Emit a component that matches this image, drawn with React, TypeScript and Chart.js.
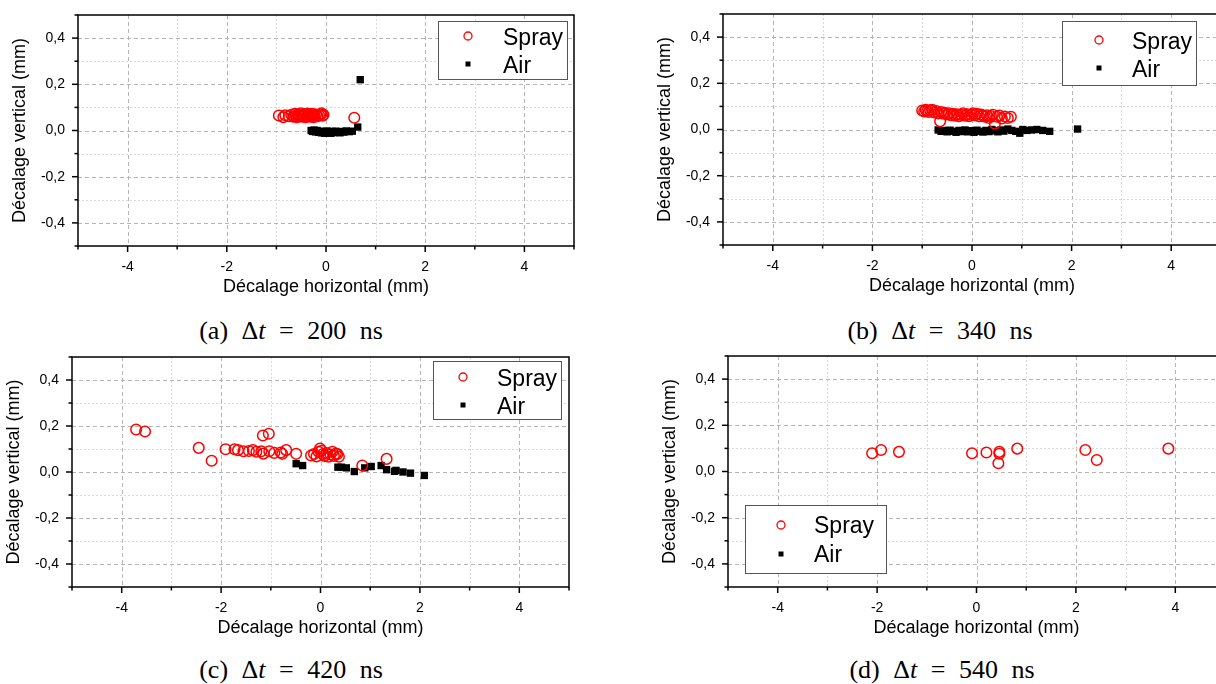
import React, { useEffect, useRef } from 'react';
import { Chart, registerables } from 'chart.js';

Chart.register(...registerables);

type Pt = [number, number];

// ---------- text / tick labels ----------
const xTickValues = [-4, -2, 0, 2, 4];
const xTickLabels = ['-4', '-2', '0', '2', '4'];
const yTickValues = [0.4, 0.2, 0, -0.2, -0.4];
const yTickLabels = ['0,4', '0,2', '0,0', '-0,2', '-0,4'];
const xTitle = 'Décalage horizontal (mm)';
const yTitle = 'Décalage vertical (mm)';
const seriesNames = ['Spray', 'Air'];
const captionLabels = ['(a)', '(b)', '(c)', '(d)'];
const captionTimes = ['200', '340', '420', '540'];

// ---------- data (mm) ----------
const sprayA: Pt[] = [
  [-0.95, 0.065], [-0.86, 0.058], [-0.82, 0.066], [-0.75, 0.062], [-0.7, 0.068], [-0.66, 0.06],
  [-0.63, 0.072], [-0.61, 0.064], [-0.59, 0.058], [-0.57, 0.07], [-0.55, 0.066], [-0.53, 0.061],
  [-0.51, 0.074], [-0.49, 0.068], [-0.47, 0.06], [-0.45, 0.065], [-0.43, 0.071], [-0.41, 0.058],
  [-0.39, 0.066], [-0.37, 0.073], [-0.35, 0.062], [-0.33, 0.068], [-0.31, 0.06], [-0.29, 0.066],
  [-0.27, 0.072], [-0.25, 0.058], [-0.23, 0.064], [-0.2, 0.069], [-0.17, 0.062], [-0.14, 0.066],
  [-0.11, 0.07], [-0.09, 0.074], [-0.07, 0.064], [-0.05, 0.068], [0.57, 0.055],
];
const airA: Pt[] = [
  [-0.3, 0.0], [-0.27, -0.004], [-0.24, 0.002], [-0.21, -0.006], [-0.18, 0.0], [-0.15, -0.008],
  [-0.12, -0.003], [-0.09, -0.01], [-0.06, -0.005], [-0.03, -0.012], [0.0, -0.008], [0.02, -0.002],
  [0.04, -0.01], [0.07, -0.006], [0.1, -0.012], [0.13, -0.004], [0.16, -0.009], [0.19, -0.003],
  [0.22, -0.008], [0.25, -0.005], [0.28, -0.01], [0.32, -0.004], [0.36, -0.007], [0.41, -0.002],
  [0.47, -0.005], [0.53, -0.003], [0.64, 0.015], [0.69, 0.22],
];
const sprayB: Pt[] = [
  [-1.0, 0.082], [-0.96, 0.078], [-0.93, 0.085], [-0.9, 0.08], [-0.87, 0.076], [-0.84, 0.083],
  [-0.8, 0.085], [-0.76, 0.074], [-0.72, 0.08], [-0.68, 0.07], [-0.64, 0.036], [-0.62, 0.076],
  [-0.58, 0.068], [-0.55, 0.072], [-0.5, 0.065], [-0.46, 0.07], [-0.42, 0.062], [-0.38, 0.068],
  [-0.34, 0.06], [-0.3, 0.066], [-0.26, 0.058], [-0.22, 0.064], [-0.18, 0.07], [-0.14, 0.06],
  [-0.1, 0.066], [-0.06, 0.058], [-0.02, 0.064], [0.02, 0.07], [0.06, 0.062], [0.1, 0.068],
  [0.14, 0.058], [0.18, 0.065], [0.22, 0.06], [0.26, 0.055], [0.3, 0.062], [0.34, 0.05],
  [0.38, 0.058], [0.42, 0.064], [0.46, 0.025], [0.5, 0.055], [0.55, 0.06], [0.6, 0.048],
  [0.66, 0.056], [0.72, 0.05], [0.78, 0.055],
];
const airB: Pt[] = [
  [-0.68, -0.002], [-0.62, -0.008], [-0.56, -0.004], [-0.5, -0.01], [-0.44, -0.003], [-0.38, -0.008],
  [-0.32, -0.012], [-0.26, -0.004], [-0.2, -0.009], [-0.14, -0.002], [-0.08, -0.01], [-0.02, -0.005],
  [0.04, -0.012], [0.1, -0.003], [0.16, -0.008], [0.22, -0.011], [0.28, -0.004], [0.34, -0.009],
  [0.4, 0.0], [0.46, -0.006], [0.52, -0.01], [0.58, -0.002], [0.64, -0.007], [0.72, 0.002],
  [0.8, -0.004], [0.88, -0.008], [0.96, -0.016], [1.02, 0.0], [1.1, -0.004], [1.2, -0.002],
  [1.3, 0.0], [1.42, -0.004], [1.56, -0.008], [2.12, 0.002],
];
const sprayC: Pt[] = [
  [-3.71, 0.185], [-3.53, 0.176], [-2.45, 0.105], [-2.19, 0.049], [-1.91, 0.099], [-1.73, 0.099],
  [-1.66, 0.095], [-1.55, 0.09], [-1.44, 0.091], [-1.36, 0.095], [-1.29, 0.088], [-1.19, 0.09],
  [-1.15, 0.08], [-1.16, 0.159], [-1.04, 0.166], [-1.03, 0.09], [-0.93, 0.083], [-0.8, 0.085],
  [-0.77, 0.079], [-0.69, 0.095], [-0.49, 0.079], [-0.19, 0.072], [-0.13, 0.078], [-0.08, 0.068],
  [-0.04, 0.088], [-0.01, 0.102], [0.02, 0.092], [0.05, 0.078], [0.08, 0.07], [0.12, 0.082],
  [0.16, 0.066], [0.2, 0.076], [0.24, 0.088], [0.27, 0.07], [0.31, 0.08], [0.34, 0.078],
  [0.37, 0.066], [0.84, 0.028], [1.33, 0.057],
];
const airC: Pt[] = [
  [-0.49, 0.036], [-0.36, 0.028], [0.35, 0.021], [0.42, 0.021], [0.52, 0.018], [0.68, 0.002],
  [0.89, 0.018], [1.02, 0.024], [1.22, 0.028], [1.33, 0.01], [1.49, 0.003], [1.52, 0.007],
  [1.66, 0.0], [1.81, -0.005], [2.09, -0.015],
];
const sprayD: Pt[] = [
  [-2.1, 0.079], [-1.92, 0.093], [-1.56, 0.085], [-0.09, 0.079], [0.2, 0.082], [0.46, 0.085],
  [0.46, 0.077], [0.44, 0.036], [0.82, 0.099], [2.19, 0.093], [2.42, 0.05], [3.86, 0.099],
];
const airD: Pt[] = [];

// ---------- layout (page pixels) ----------
type PanelSpec = {
  left: number; top: number; cw: number; ch: number;
  area: { l: number; t: number; r: number; b: number }; // relative to canvas
  legend: { x: number; y: number; w: number; h: number; mx: number; rows: number[]; tx: number; base: number[] }; // page coords
  caption: { cx: number; cy: number };
  spray: Pt[]; air: Pt[];
};

const panels: PanelSpec[] = [
  {
    left: 0, top: 0, cw: 600, ch: 300,
    area: { l: 78, t: 15, r: 574, b: 246 },
    legend: { x: 438, y: 21, w: 129, h: 58, mx: 468, rows: [36, 64], tx: 503, base: [45, 73] },
    caption: { cx: 291, cy: 331 }, spray: sprayA, air: airA,
  },
  {
    left: 640, top: 0, cw: 600, ch: 300,
    area: { l: 83, t: 14, r: 581, b: 245 },
    legend: { x: 1062, y: 21, w: 134, h: 64, mx: 1099, rows: [40, 68], tx: 1132, base: [49, 77] },
    caption: { cx: 940, cy: 331 }, spray: sprayB, air: airB,
  },
  {
    left: 0, top: 340, cw: 600, ch: 300,
    area: { l: 72, t: 17, r: 569, b: 247 },
    legend: { x: 433, y: 361, w: 128, h: 58, mx: 463, rows: [377, 405], tx: 497, base: [386, 414] },
    caption: { cx: 291, cy: 670 }, spray: sprayC, air: airC,
  },
  {
    left: 640, top: 340, cw: 600, ch: 300,
    area: { l: 88, t: 16, r: 585, b: 247 },
    legend: { x: 745, y: 505, w: 141, h: 68, mx: 781, rows: [525, 554], tx: 814, base: [533, 562] },
    caption: { cx: 942, cy: 670 }, spray: sprayD, air: airD,
  },
];

const SANS = '"Liberation Sans", Arial, sans-serif';
const SERIF = '"Liberation Serif", "Times New Roman", serif';

function lookup(values: number[], labels: string[], v: number): string {
  const i = values.findIndex((t) => Math.abs(t - v) < 1e-6);
  return i >= 0 ? labels[i] : '';
}

function makePlugin(p: PanelSpec) {
  return {
    id: 'originFrame',
    beforeDatasetsDraw(chart: any) {
      const { ctx, chartArea: a, scales } = chart;
      const xs = scales.x;
      const ys = scales.y;
      ctx.save();
      ctx.lineWidth = 1;
      xs.ticks.forEach((t: any) => {
        if (Math.abs(t.value) > 4.5) return;
        const major = Math.round(t.value) % 2 === 0;
        const px = Math.round(xs.getPixelForValue(t.value)) + 0.5;
        ctx.strokeStyle = major ? '#b5b5b5' : '#dadada';
        ctx.setLineDash(major ? [4, 3] : [2, 2]);
        ctx.beginPath();
        ctx.moveTo(px, a.top);
        ctx.lineTo(px, a.bottom);
        ctx.stroke();
      });
      ys.ticks.forEach((t: any) => {
        if (Math.abs(t.value) > 0.45) return;
        const major = Math.round(t.value * 10) % 2 === 0;
        const py = Math.round(ys.getPixelForValue(t.value)) + 0.5;
        ctx.strokeStyle = major ? '#b5b5b5' : '#dadada';
        ctx.setLineDash(major ? [4, 3] : [2, 2]);
        ctx.beginPath();
        ctx.moveTo(a.left, py);
        ctx.lineTo(a.right, py);
        ctx.stroke();
      });
      ctx.restore();
    },
    afterDraw(chart: any) {
      const { ctx, chartArea: a, scales } = chart;
      const xs = scales.x;
      const ys = scales.y;
      ctx.save();
      // frame
      ctx.setLineDash([]);
      ctx.strokeStyle = '#000';
      ctx.lineWidth = 1.5;
      ctx.strokeRect(a.left, a.top, a.right - a.left, a.bottom - a.top);
      // tick marks
      xs.ticks.forEach((t: any) => {
        const major = Math.round(t.value) % 2 === 0;
        const px = xs.getPixelForValue(t.value);
        ctx.beginPath();
        ctx.moveTo(px, a.bottom);
        ctx.lineTo(px, a.bottom + (major ? 6 : 3.5));
        ctx.stroke();
      });
      ys.ticks.forEach((t: any) => {
        const major = Math.round(t.value * 10) % 2 === 0;
        const py = ys.getPixelForValue(t.value);
        ctx.beginPath();
        ctx.moveTo(a.left, py);
        ctx.lineTo(a.left - (major ? 6 : 3.5), py);
        ctx.stroke();
      });
      // axis titles
      ctx.fillStyle = '#000';
      ctx.font = `18px ${SANS}`;
      ctx.textAlign = 'center';
      ctx.textBaseline = 'middle';
      ctx.fillText(xTitle, (a.left + a.right) / 2, a.bottom + 41);
      ctx.save();
      ctx.translate(a.left - 58, (a.top + a.bottom) / 2);
      ctx.rotate(-Math.PI / 2);
      ctx.fillText(yTitle, 0, 0);
      ctx.restore();
      // legend box
      const L = p.legend;
      const ox = p.left;
      const oy = p.top;
      ctx.fillStyle = '#fff';
      ctx.fillRect(L.x - ox, L.y - oy, L.w, L.h);
      ctx.strokeStyle = '#555';
      ctx.lineWidth = 1;
      ctx.strokeRect(L.x - ox + 0.5, L.y - oy + 0.5, L.w, L.h);
      // legend markers
      ctx.strokeStyle = '#ff0000';
      ctx.lineWidth = 1.3;
      ctx.beginPath();
      ctx.arc(L.mx - ox, L.rows[0] - oy, 4, 0, Math.PI * 2);
      ctx.stroke();
      ctx.fillStyle = '#000';
      ctx.fillRect(L.mx - ox - 2.5, L.rows[1] - oy - 2.5, 5, 5);
      // legend text
      ctx.font = `23px ${SANS}`;
      ctx.textAlign = 'left';
      ctx.textBaseline = 'alphabetic';
      ctx.fillText(seriesNames[0], L.tx - ox, L.base[0] - oy);
      ctx.fillText(seriesNames[1], L.tx - ox, L.base[1] - oy);
      ctx.restore();
    },
  };
}

function Panel({ p }: { p: PanelSpec }) {
  const ref = useRef<HTMLCanvasElement | null>(null);
  useEffect(() => {
    const canvas = ref.current;
    if (!canvas) return;
    const { cw, ch, area } = p;
    const chart = new Chart(canvas, {
      type: 'scatter',
      data: {
        datasets: [
          {
            label: seriesNames[0],
            data: p.spray.map(([x, y]) => ({ x, y })),
            pointStyle: 'circle',
            pointRadius: 5.3,
            pointHoverRadius: 5.3,
            pointBorderWidth: 1.5,
            borderColor: '#ff0000',
            pointBorderColor: '#ff0000',
            backgroundColor: 'rgba(0,0,0,0)',
            pointBackgroundColor: 'rgba(0,0,0,0)',
          },
          {
            label: seriesNames[1],
            data: p.air.map(([x, y]) => ({ x, y })),
            pointStyle: 'rect',
            pointRadius: 5.2,
            pointHoverRadius: 5.2,
            pointBorderWidth: 0,
            borderColor: '#000',
            pointBorderColor: '#000',
            backgroundColor: '#000',
            pointBackgroundColor: '#000',
          },
        ],
      } as any,
      options: {
        animation: false,
        responsive: false,
        devicePixelRatio: 1,
        events: [],
        layout: { padding: { left: 0, top: area.t, right: cw - area.r, bottom: 0 } },
        plugins: { legend: { display: false }, tooltip: { enabled: false } },
        scales: {
          x: {
            type: 'linear',
            position: 'bottom',
            min: -5,
            max: 5,
            grid: { display: false, drawTicks: false },
            border: { display: false },
            ticks: {
              stepSize: 1,
              autoSkip: false,
              maxRotation: 0,
              padding: 13,
              color: '#000',
              font: { family: SANS, size: 14 },
              callback: (v: any) => lookup(xTickValues, xTickLabels, Number(v)),
            },
            afterFit: (s: any) => {
              s.height = ch - area.b;
              s.paddingLeft = 0;
              s.paddingRight = 0;
            },
          },
          y: {
            type: 'linear',
            position: 'left',
            min: -0.5,
            max: 0.5,
            grid: { display: false, drawTicks: false },
            border: { display: false },
            ticks: {
              stepSize: 0.1,
              autoSkip: false,
              padding: 13,
              color: '#000',
              font: { family: SANS, size: 14 },
              callback: (v: any) => lookup(yTickValues, yTickLabels, Number(v)),
            },
            afterFit: (s: any) => {
              s.width = area.l;
              s.paddingTop = 0;
              s.paddingBottom = 0;
            },
          },
        },
      } as any,
      plugins: [makePlugin(p)],
    });
    return () => chart.destroy();
  }, [p]);
  return (
    <canvas
      ref={ref}
      width={p.cw}
      height={p.ch}
      style={{ position: 'absolute', left: p.left, top: p.top, width: p.cw, height: p.ch }}
    />
  );
}

export default function App() {
  return (
    <div
      style={{
        position: 'fixed', left: 0, top: 0, width: 1216, height: 684,
        overflow: 'hidden', background: '#fff',
      }}
    >
      {panels.map((p, i) => (
        <React.Fragment key={i}>
          <Panel p={p} />
          <div
            style={{
              position: 'absolute', left: p.caption.cx, top: p.caption.cy,
              transform: 'translate(-50%, -50%)', whiteSpace: 'pre',
              fontFamily: SERIF, fontSize: 26, wordSpacing: 7, color: '#000', lineHeight: 1,
            }}
          >
            {captionLabels[i]} Δ<i>t</i> = {captionTimes[i]} ns
          </div>
        </React.Fragment>
      ))}
    </div>
  );
}
